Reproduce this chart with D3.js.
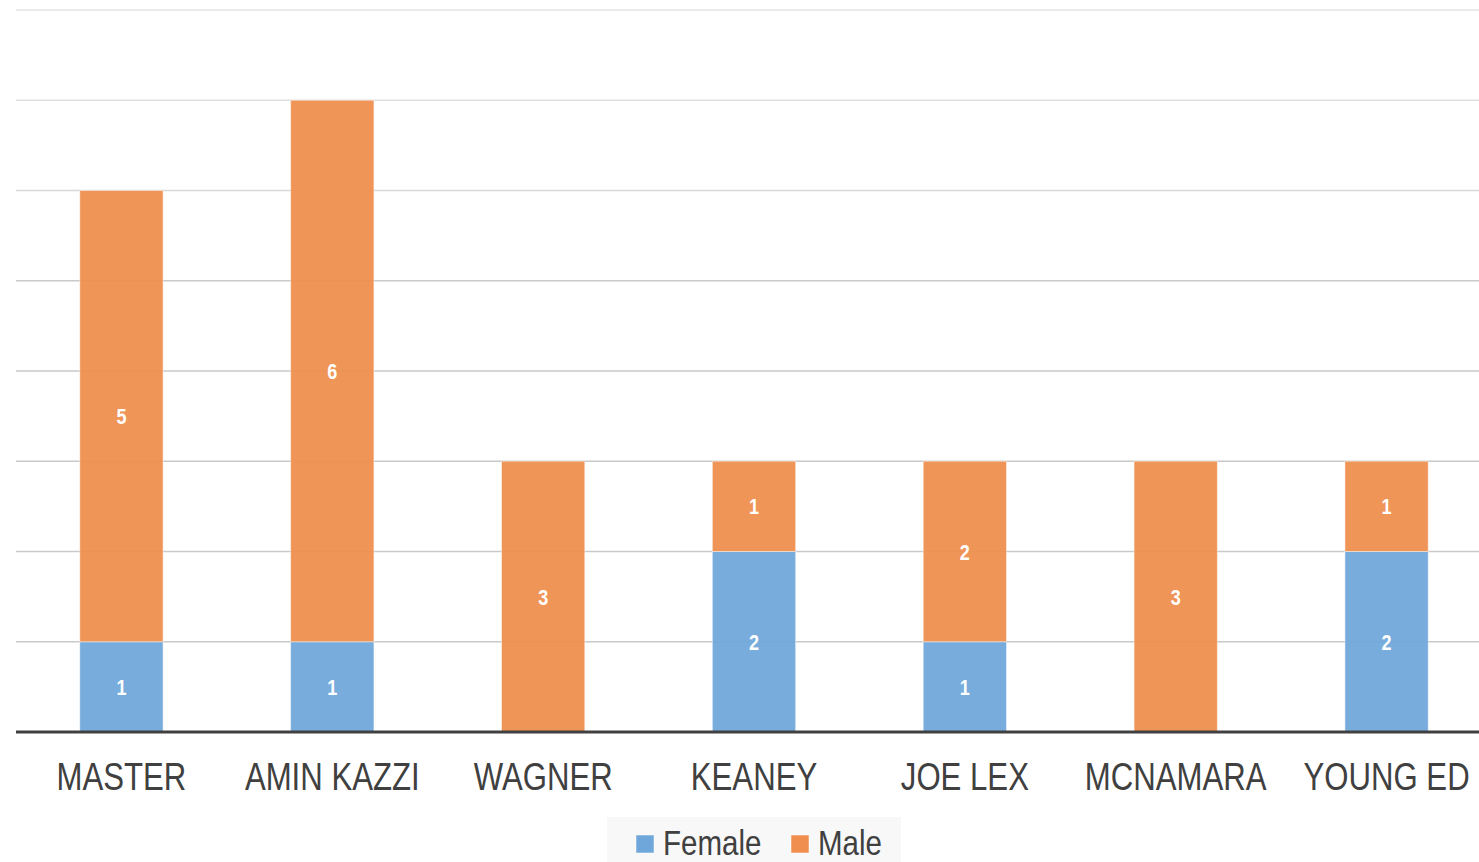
<!DOCTYPE html>
<html><head><meta charset="utf-8">
<script src="https://cdn.jsdelivr.net/npm/d3@7"></script>
<style>html,body{margin:0;padding:0;background:#fff;overflow:hidden}</style>
</head><body>
<svg id="chart" width="1479" height="862"></svg>
<script>
const categories = ["MASTER","AMIN KAZZI","WAGNER","KEANEY","JOE LEX","MCNAMARA","YOUNG ED"];
const female = [1,1,0,2,1,0,2];
const male = [5,6,3,1,2,3,1];
const seriesNames = ["Female","Male"];
const colors = ["#70a7da","#ef8e4e"];
const gridTicks = [1,2,3,4,5,6,7,8];

(function(){
const svg = d3.select("#chart");
const pLeft = 16, pRight = 1492, pTop = 10, pBottom = 732;
const x = d3.scaleBand().domain(categories).range([pLeft, pRight]).padding(0);
const y = d3.scaleLinear().domain([0, 8]).range([pBottom, pTop]);
const barFrac = 0.395;
const bw = x.bandwidth() * barFrac;
const sx = 0.82;

svg.append("g").selectAll("line").data(gridTicks).join("line")
  .attr("x1", pLeft).attr("x2", 1479)
  .attr("y1", d => y(d)).attr("y2", d => y(d))
  .attr("stroke", d => d >= 8 ? "#e3e3e3" : d >= 7 ? "#dfdfdf" : d >= 6 ? "#d8d8d8" : "#c9c9c9")
  .attr("stroke-width", 1.5);

const data = categories.map((c, i) => ({c, vals: [female[i], male[i]]}));
const stack = d3.stack().keys([0,1]).value((d, k) => d.vals[k]);
const layers = stack(data);

const gBars = svg.append("g");
layers.forEach((layer, k) => {
  gBars.selectAll(null).data(layer.filter(d => d[1] - d[0] > 0)).join("rect")
    .attr("x", d => x(d.data.c) + (x.bandwidth() - bw) / 2)
    .attr("width", bw)
    .attr("y", d => y(d[1]))
    .attr("height", d => y(d[0]) - y(d[1]))
    .attr("fill", colors[k])
    .attr("fill-opacity", 0.94)
    .attr("stroke", "#ffffff").attr("stroke-opacity", 0.45).attr("stroke-width", 1);
});
layers.forEach((layer, k) => {
  gBars.selectAll(null).data(layer.filter(d => d[1] - d[0] > 0)).join("text")
    .attr("transform", d => `translate(${x(d.data.c) + x.bandwidth()/2},${(y(d[0]) + y(d[1]))/2 + 8}) scale(${sx},1)`)
    .attr("text-anchor", "middle")
    .attr("font-family", "Liberation Sans, Arial, sans-serif")
    .attr("font-weight", "bold").attr("font-size", 22)
    .attr("fill", "#fff")
    .text(d => d[1] - d[0]);
});

const axis = d3.axisBottom(x).tickSize(0).tickPadding(0);
const ax = svg.append("g").attr("transform", `translate(0,${pBottom})`).call(axis);
ax.select(".domain").remove();
svg.append("line").attr("x1", pLeft).attr("x2", 1479).attr("y1", pBottom).attr("y2", pBottom)
  .attr("stroke", "#404040").attr("stroke-width", 3);
ax.selectAll(".tick text")
  .attr("y", 0).attr("dy", 0)
  .attr("transform", `translate(0,58) scale(${sx},1)`)
  .attr("font-family", "Liberation Sans, Arial, sans-serif")
  .attr("font-size", 38).attr("fill", "#404040");

const lg = svg.append("g");
lg.append("rect").attr("x", 607).attr("y", 817).attr("width", 294).attr("height", 50).attr("fill", "#f8f8f8");
const legendX = [636, 791];
seriesNames.forEach((n, i) => {
  lg.append("rect").attr("x", legendX[i]).attr("y", 835).attr("width", 18).attr("height", 18)
    .attr("fill", colors[i]).attr("stroke", "#ffffff").attr("stroke-opacity", 0.5);
  lg.append("text").attr("transform", `translate(${legendX[i] + 27},855) scale(${sx},1)`)
    .attr("font-family", "Liberation Sans, Arial, sans-serif")
    .attr("font-size", 36).attr("fill", "#404040").text(n);
});
})();
</script>
</body></html>
